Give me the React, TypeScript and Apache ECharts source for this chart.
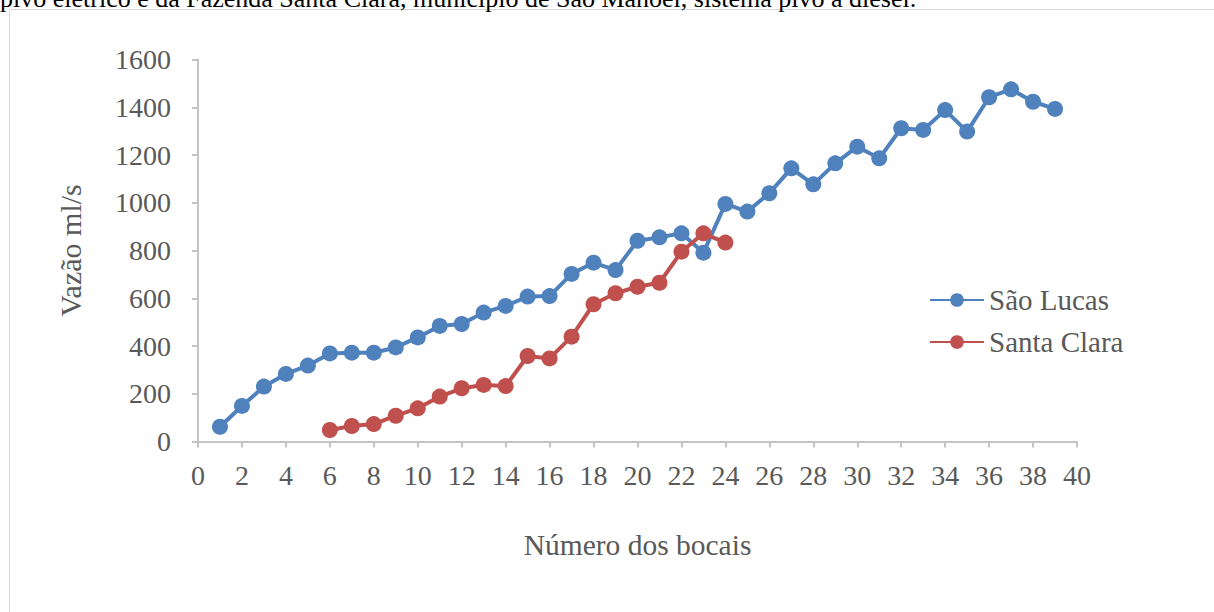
import React, { useEffect, useRef } from "react";
import * as echarts from "echarts";

const caption =
  "pivô elétrico e da Fazenda Santa Clara, município de São Manoel, sistema pivô a diesel.";
const xTitle = "Número dos bocais";
const yTitle = "Vazão ml/s";

const saoLucasBocais = [
  1, 2, 3, 4, 5, 6, 7, 8, 9, 10, 11, 12, 13, 14, 15, 16, 17, 18, 19, 20, 21, 22, 23, 24, 25, 26,
  27, 28, 29, 30, 31, 32, 33, 34, 35, 36, 37, 38, 39,
];
const saoLucasVazao = [
  62, 149, 230, 283, 318, 369, 372, 372, 394, 436, 484, 492, 540, 568, 607, 609, 702, 749, 718,
  841, 855, 872, 791, 995, 963, 1040, 1144, 1077, 1165, 1235, 1186, 1312, 1305, 1388, 1298, 1442,
  1475, 1423, 1393,
];

const santaClaraBocais = [6, 7, 8, 9, 10, 11, 12, 13, 14, 15, 16, 17, 18, 19, 20, 21, 22, 23, 24];
const santaClaraVazao = [
  48, 65, 73, 108, 139, 188, 223, 237, 232, 358, 348, 439, 575, 621, 648, 665, 795, 872, 833,
];

const FONT = '"Liberation Serif", "Times New Roman", serif';
const TEXT = "#595959";
const AXIS = "#c4c4c4";

export default function App() {
  const ref = useRef<HTMLDivElement>(null);

  useEffect(() => {
    if (!ref.current) return;
    const chart = echarts.init(ref.current, undefined, { renderer: "svg" });
    const pairs = (xs: number[], ys: number[]) => xs.map((x, i) => [x, ys[i]]);
    chart.setOption({
      animation: false,
      backgroundColor: "#ffffff",
      textStyle: { fontFamily: FONT },
      graphic: [
        {
          type: "rect",
          shape: { x: 9.5, y: 9.5, width: 1400, height: 800 },
          style: { fill: "none", stroke: "#d9d9d9", lineWidth: 1 },
          silent: true,
        },
        {
          type: "text",
          x: 0,
          y: 11,
          style: {
            text: caption,
            font: `26px ${FONT}`,
            fill: "#000000",
            verticalAlign: "bottom",
            align: "left",
          },
          silent: true,
        },
      ],
      grid: { left: 198, right: 137, top: 59.5, bottom: 170.5, containLabel: false },
      legend: {
        orient: "vertical",
        left: 929,
        top: 285,
        padding: 0,
        itemWidth: 54,
        itemHeight: 17,
        itemGap: 12,
        textStyle: { fontSize: 29, lineHeight: 30, color: TEXT, fontFamily: FONT },
        data: ["São Lucas", "Santa Clara"],
      },
      xAxis: {
        type: "value",
        min: 0,
        max: 40,
        interval: 2,
        name: xTitle,
        nameLocation: "middle",
        nameGap: 88,
        nameTextStyle: { fontSize: 29.5, color: TEXT, fontFamily: FONT },
        axisLine: { show: true, lineStyle: { color: AXIS, width: 2 } },
        axisTick: { show: true, length: 6, lineStyle: { color: AXIS, width: 2 } },
        axisLabel: { fontSize: 28, color: TEXT, fontFamily: FONT, margin: 20 },
        splitLine: { show: false },
      },
      yAxis: {
        type: "value",
        min: 0,
        max: 1600,
        interval: 200,
        name: yTitle,
        nameLocation: "middle",
        nameGap: 113,
        nameTextStyle: { fontSize: 30, color: TEXT, fontFamily: FONT },
        axisLine: { show: true, lineStyle: { color: AXIS, width: 2 } },
        axisTick: { show: true, length: 6, lineStyle: { color: AXIS, width: 2 } },
        axisLabel: {
          fontSize: 28,
          color: TEXT,
          fontFamily: FONT,
          margin: 27,
          formatter: (v: number) => String(v),
        },
        splitLine: { show: false },
      },
      series: [
        {
          name: "São Lucas",
          type: "line",
          data: pairs(saoLucasBocais, saoLucasVazao),
          symbol: "circle",
          symbolSize: 16,
          itemStyle: { color: "#4f81bd" },
          lineStyle: { color: "#4f81bd", width: 4 },
        },
        {
          name: "Santa Clara",
          type: "line",
          data: pairs(santaClaraBocais, santaClaraVazao),
          symbol: "circle",
          symbolSize: 16,
          itemStyle: { color: "#c0504d" },
          lineStyle: { color: "#c0504d", width: 4 },
        },
      ],
    });
    return () => chart.dispose();
  }, []);

  return (
    <div
      ref={ref}
      style={{ position: "fixed", left: 0, top: 0, width: 1214, height: 612 }}
    />
  );
}
